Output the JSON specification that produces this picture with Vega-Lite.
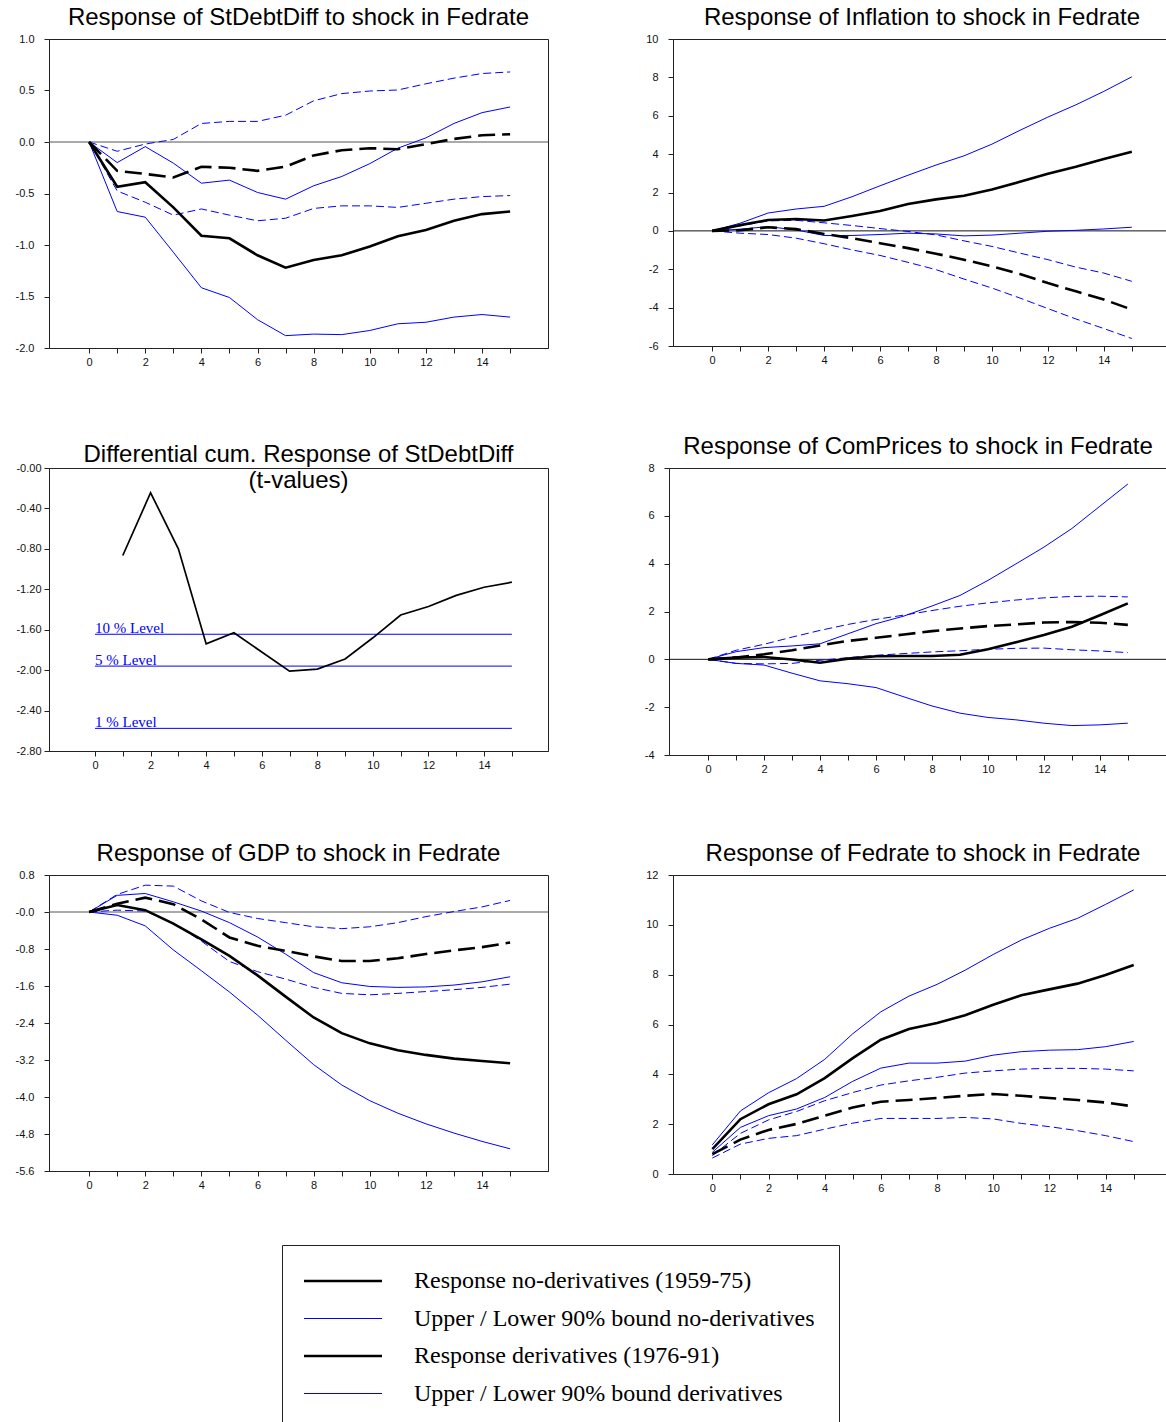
{
  "$schema": "https://vega.github.io/schema/vega-lite/v6.json",
  "background": "white",
  "padding": {"left": 14, "top": 5, "right": 0, "bottom": 0},
  "datasets": {
    "d1": [
      {"x":0,"r0":0,"u0":0,"l0":0,"r1":0,"u1":0,"l1":0},
      {"x":1,"r0":-0.435,"u0":-0.2,"l0":-0.675,"r1":-0.28,"u1":-0.09,"l1":-0.475},
      {"x":2,"r0":-0.39,"u0":-0.045,"l0":-0.73,"r1":-0.31,"u1":-0.02,"l1":-0.585},
      {"x":3,"r0":-0.635,"u0":-0.205,"l0":-1.07,"r1":-0.345,"u1":0.025,"l1":-0.71},
      {"x":4,"r0":-0.91,"u0":-0.4,"l0":-1.415,"r1":-0.24,"u1":0.18,"l1":-0.65},
      {"x":5,"r0":-0.935,"u0":-0.37,"l0":-1.51,"r1":-0.25,"u1":0.2,"l1":-0.71},
      {"x":6,"r0":-1.1,"u0":-0.49,"l0":-1.725,"r1":-0.28,"u1":0.2,"l1":-0.765},
      {"x":7,"r0":-1.22,"u0":-0.555,"l0":-1.88,"r1":-0.24,"u1":0.26,"l1":-0.74},
      {"x":8,"r0":-1.145,"u0":-0.425,"l0":-1.865,"r1":-0.13,"u1":0.4,"l1":-0.645},
      {"x":9,"r0":-1.1,"u0":-0.335,"l0":-1.87,"r1":-0.08,"u1":0.47,"l1":-0.62},
      {"x":10,"r0":-1.015,"u0":-0.21,"l0":-1.83,"r1":-0.06,"u1":0.495,"l1":-0.62},
      {"x":11,"r0":-0.915,"u0":-0.06,"l0":-1.765,"r1":-0.07,"u1":0.505,"l1":-0.635},
      {"x":12,"r0":-0.855,"u0":0.04,"l0":-1.75,"r1":-0.02,"u1":0.565,"l1":-0.595},
      {"x":13,"r0":-0.765,"u0":0.18,"l0":-1.7,"r1":0.03,"u1":0.62,"l1":-0.555},
      {"x":14,"r0":-0.7,"u0":0.285,"l0":-1.675,"r1":0.065,"u1":0.665,"l1":-0.53},
      {"x":15,"r0":-0.675,"u0":0.34,"l0":-1.7,"r1":0.075,"u1":0.68,"l1":-0.52}
    ],
    "d2": [
      {"x":0,"r0":0,"u0":0,"l0":0,"r1":0,"u1":0,"l1":0},
      {"x":1,"r0":0.3,"u0":0.4,"l0":0.09,"r1":0.03,"u1":0.26,"l1":-0.12},
      {"x":2,"r0":0.57,"u0":0.93,"l0":0.22,"r1":0.19,"u1":0.52,"l1":-0.19},
      {"x":3,"r0":0.62,"u0":1.14,"l0":0.05,"r1":0.09,"u1":0.55,"l1":-0.38},
      {"x":4,"r0":0.54,"u0":1.28,"l0":-0.24,"r1":-0.16,"u1":0.42,"l1":-0.67},
      {"x":5,"r0":0.78,"u0":1.78,"l0":-0.24,"r1":-0.38,"u1":0.28,"l1":-0.99},
      {"x":6,"r0":1.04,"u0":2.35,"l0":-0.19,"r1":-0.64,"u1":0.12,"l1":-1.28},
      {"x":7,"r0":1.4,"u0":2.9,"l0":-0.12,"r1":-0.9,"u1":-0.03,"l1":-1.64},
      {"x":8,"r0":1.64,"u0":3.43,"l0":-0.16,"r1":-1.19,"u1":-0.21,"l1":-2.02},
      {"x":9,"r0":1.83,"u0":3.91,"l0":-0.26,"r1":-1.5,"u1":-0.52,"l1":-2.51},
      {"x":10,"r0":2.16,"u0":4.52,"l0":-0.22,"r1":-1.85,"u1":-0.81,"l1":-2.98},
      {"x":11,"r0":2.56,"u0":5.24,"l0":-0.12,"r1":-2.25,"u1":-1.16,"l1":-3.5},
      {"x":12,"r0":2.98,"u0":5.93,"l0":-0.02,"r1":-2.72,"u1":-1.5,"l1":-4.05},
      {"x":13,"r0":3.34,"u0":6.57,"l0":0.03,"r1":-3.15,"u1":-1.89,"l1":-4.59},
      {"x":14,"r0":3.74,"u0":7.27,"l0":0.1,"r1":-3.58,"u1":-2.2,"l1":-5.09},
      {"x":15,"r0":4.12,"u0":8.03,"l0":0.19,"r1":-4.1,"u1":-2.63,"l1":-5.61}
    ],
    "t": [
      {"x":1,"v":-0.866},{"x":2,"v":-0.245},{"x":3,"v":-0.8},{"x":4,"v":-1.74},{"x":5,"v":-1.63},
      {"x":6,"v":-1.82},{"x":7,"v":-2.01},{"x":8,"v":-1.99},{"x":9,"v":-1.89},{"x":10,"v":-1.68},
      {"x":11,"v":-1.455},{"x":12,"v":-1.37},{"x":13,"v":-1.26},{"x":14,"v":-1.18},{"x":15,"v":-1.13}
    ],
    "lv": [
      {"label":"10 % Level","v":-1.645},
      {"label":"5 % Level","v":-1.96},
      {"label":"1 % Level","v":-2.576}
    ],
    "d4": [
      {"x":0,"r0":0,"u0":0,"l0":0,"r1":0,"u1":0,"l1":0},
      {"x":1,"r0":0.07,"u0":0.32,"l0":-0.17,"r1":0.08,"u1":0.38,"l1":-0.17},
      {"x":2,"r0":0.1,"u0":0.49,"l0":-0.24,"r1":0.21,"u1":0.63,"l1":-0.19},
      {"x":3,"r0":-0.01,"u0":0.56,"l0":-0.58,"r1":0.38,"u1":0.93,"l1":-0.17},
      {"x":4,"r0":-0.14,"u0":0.65,"l0":-0.9,"r1":0.58,"u1":1.21,"l1":-0.04},
      {"x":5,"r0":0.03,"u0":1.07,"l0":-1.02,"r1":0.77,"u1":1.46,"l1":0.07},
      {"x":6,"r0":0.13,"u0":1.49,"l0":-1.18,"r1":0.9,"u1":1.67,"l1":0.17},
      {"x":7,"r0":0.14,"u0":1.81,"l0":-1.57,"r1":1.04,"u1":1.85,"l1":0.24},
      {"x":8,"r0":0.14,"u0":2.23,"l0":-1.95,"r1":1.18,"u1":2.04,"l1":0.31},
      {"x":9,"r0":0.19,"u0":2.67,"l0":-2.25,"r1":1.29,"u1":2.22,"l1":0.36},
      {"x":10,"r0":0.42,"u0":3.3,"l0":-2.43,"r1":1.39,"u1":2.36,"l1":0.42},
      {"x":11,"r0":0.71,"u0":3.99,"l0":-2.53,"r1":1.46,"u1":2.48,"l1":0.46},
      {"x":12,"r0":1.02,"u0":4.69,"l0":-2.67,"r1":1.54,"u1":2.57,"l1":0.47},
      {"x":13,"r0":1.36,"u0":5.47,"l0":-2.77,"r1":1.56,"u1":2.63,"l1":0.4},
      {"x":14,"r0":1.84,"u0":6.4,"l0":-2.74,"r1":1.53,"u1":2.64,"l1":0.35},
      {"x":15,"r0":2.34,"u0":7.33,"l0":-2.67,"r1":1.44,"u1":2.61,"l1":0.28}
    ],
    "d5": [
      {"x":0,"r0":0,"u0":0,"l0":0,"r1":0,"u1":0,"l1":0},
      {"x":1,"r0":0.15,"u0":0.36,"l0":-0.07,"r1":0.18,"u1":0.38,"l1":0.04},
      {"x":2,"r0":0.04,"u0":0.4,"l0":-0.3,"r1":0.31,"u1":0.58,"l1":0.02},
      {"x":3,"r0":-0.25,"u0":0.22,"l0":-0.82,"r1":0.17,"u1":0.56,"l1":-0.24},
      {"x":4,"r0":-0.59,"u0":0.02,"l0":-1.27,"r1":-0.16,"u1":0.24,"l1":-0.63},
      {"x":5,"r0":-0.95,"u0":-0.23,"l0":-1.73,"r1":-0.55,"u1":-0.01,"l1":-1.07},
      {"x":6,"r0":-1.37,"u0":-0.54,"l0":-2.23,"r1":-0.73,"u1":-0.14,"l1":-1.29},
      {"x":7,"r0":-1.83,"u0":-0.91,"l0":-2.77,"r1":-0.84,"u1":-0.23,"l1":-1.45},
      {"x":8,"r0":-2.28,"u0":-1.31,"l0":-3.3,"r1":-0.96,"u1":-0.32,"l1":-1.63},
      {"x":9,"r0":-2.62,"u0":-1.53,"l0":-3.74,"r1":-1.06,"u1":-0.36,"l1":-1.76},
      {"x":10,"r0":-2.84,"u0":-1.61,"l0":-4.08,"r1":-1.06,"u1":-0.32,"l1":-1.79},
      {"x":11,"r0":-2.99,"u0":-1.63,"l0":-4.35,"r1":-1.0,"u1":-0.23,"l1":-1.76},
      {"x":12,"r0":-3.09,"u0":-1.62,"l0":-4.58,"r1":-0.91,"u1":-0.1,"l1":-1.72},
      {"x":13,"r0":-3.17,"u0":-1.58,"l0":-4.78,"r1":-0.83,"u1":0.01,"l1":-1.68},
      {"x":14,"r0":-3.22,"u0":-1.51,"l0":-4.96,"r1":-0.76,"u1":0.11,"l1":-1.63},
      {"x":15,"r0":-3.27,"u0":-1.4,"l0":-5.12,"r1":-0.66,"u1":0.25,"l1":-1.56}
    ],
    "d6": [
      {"x":0,"r0":1.0,"u0":1.17,"l0":0.87,"r1":0.8,"u1":0.74,"l1":0.64},
      {"x":1,"r0":2.2,"u0":2.53,"l0":1.87,"r1":1.38,"u1":1.63,"l1":1.2},
      {"x":2,"r0":2.8,"u0":3.26,"l0":2.34,"r1":1.77,"u1":2.17,"l1":1.43},
      {"x":3,"r0":3.2,"u0":3.83,"l0":2.61,"r1":2.01,"u1":2.51,"l1":1.54},
      {"x":4,"r0":3.85,"u0":4.6,"l0":3.07,"r1":2.34,"u1":2.94,"l1":1.8},
      {"x":5,"r0":4.65,"u0":5.63,"l0":3.72,"r1":2.67,"u1":3.27,"l1":2.04},
      {"x":6,"r0":5.39,"u0":6.51,"l0":4.25,"r1":2.9,"u1":3.57,"l1":2.23},
      {"x":7,"r0":5.82,"u0":7.14,"l0":4.45,"r1":2.97,"u1":3.74,"l1":2.23},
      {"x":8,"r0":6.06,"u0":7.61,"l0":4.45,"r1":3.05,"u1":3.88,"l1":2.23},
      {"x":9,"r0":6.37,"u0":8.18,"l0":4.53,"r1":3.14,"u1":4.05,"l1":2.27},
      {"x":10,"r0":6.79,"u0":8.81,"l0":4.77,"r1":3.21,"u1":4.14,"l1":2.21},
      {"x":11,"r0":7.17,"u0":9.39,"l0":4.91,"r1":3.14,"u1":4.21,"l1":2.03},
      {"x":12,"r0":7.41,"u0":9.86,"l0":4.97,"r1":3.05,"u1":4.24,"l1":1.9},
      {"x":13,"r0":7.64,"u0":10.26,"l0":4.99,"r1":2.97,"u1":4.24,"l1":1.74},
      {"x":14,"r0":7.99,"u0":10.82,"l0":5.11,"r1":2.87,"u1":4.21,"l1":1.54},
      {"x":15,"r0":8.39,"u0":11.4,"l0":5.32,"r1":2.71,"u1":4.14,"l1":1.3}
    ]
  },
  "vconcat": [
    {
      "hconcat": [
        {
          "width": 499, "height": 309,
          "title": {"text": "Response of StDebtDiff to shock in Fedrate"},
          "layer": [
            {"data": {"values": [{}]}, "mark": {"type": "rule", "color": "#555", "strokeWidth": 1}, "encoding": {"y": {"datum": 0, "type": "quantitative"}}},
            {
              "data": {"name": "d1"},
              "transform": [{"fold": ["u0","l0","u1","l1","r1","r0"], "as": ["k","v"]}],
              "encoding": {
                "x": {"field": "x", "type": "quantitative", "scale": {"domain": [-1.43, 16.35], "nice": false, "zero": false}, "axis": {"title": null, "tickCount": 40, "values": [0,1,2,3,4,5,6,7,8,9,10,11,12,13,14,15], "labelExpr": "datum.value % 2 == 0 ? format(datum.value, 'd') : ''", "labelFlush": false, "labelOverlap": false, "labelPadding": 3}},
                "y": {"field": "v", "type": "quantitative", "scale": {"domain": [-2, 1], "nice": false, "zero": false}, "axis": {"title": null, "tickCount": 40, "values": [-2,-1.5,-1,-0.5,0,0.5,1], "labelOverlap": false, "labelExpr": "replace(format(datum.value, '.1f'), '−', '-')"}},
                "color": {"field": "k", "type": "nominal", "scale": {"domain": ["r0","u0","r1","u1","l0","l1"], "range": ["#000000","#0000ff","#000000","#0000ff","#0000ff","#0000ff"]},
                  "legend": {"orient": "none", "legendX": 233, "legendY": 1206, "title": null, "values": ["r0","u0","r1","u1"],
                    "labelExpr": "datum.value == 'r0' ? 'Response no-derivatives (1959-75)' : datum.value == 'u0' ? 'Upper / Lower 90% bound no-derivatives' : datum.value == 'r1' ? 'Response derivatives (1976-91)' : 'Upper / Lower 90% bound derivatives'",
                    "encode": {"symbols": {"update": {"strokeWidth": {"signal": "datum.value == 'r0' || datum.value == 'r1' ? 2.6 : 1.2"}, "strokeDash": {"value": [1, 0]}}}}}}
              },
              "layer": [
                {"transform": [{"filter": {"field": "k", "oneOf": ["u0","l0"]}}], "mark": {"type": "line", "strokeWidth": 1}},
                {"transform": [{"filter": {"field": "k", "oneOf": ["u1","l1"]}}], "mark": {"type": "line", "strokeWidth": 1, "strokeDash": [8, 4]}},
                {"transform": [{"filter": {"field": "k", "equal": "r1"}}], "mark": {"type": "line", "strokeWidth": 2.6, "strokeDash": [17, 7]}},
                {"transform": [{"filter": {"field": "k", "equal": "r0"}}], "mark": {"type": "line", "strokeWidth": 2.6}}
              ]
            }
          ]
        },
        {
          "width": 498, "height": 307,
          "title": {"text": "Response of Inflation to shock in Fedrate"},
          "layer": [
            {"data": {"values": [{}]}, "mark": {"type": "rule", "color": "#111", "strokeWidth": 1}, "encoding": {"y": {"datum": 0, "type": "quantitative"}}},
            {
              "data": {"name": "d2"},
              "transform": [{"fold": ["u0","l0","u1","l1","r1","r0"], "as": ["k","v"]}],
              "encoding": {
                "x": {"field": "x", "type": "quantitative", "scale": {"domain": [-1.4, 16.4], "nice": false, "zero": false}, "axis": {"title": null, "tickCount": 40, "values": [0,1,2,3,4,5,6,7,8,9,10,11,12,13,14,15], "labelExpr": "datum.value % 2 == 0 ? format(datum.value, 'd') : ''", "labelFlush": false, "labelOverlap": false, "labelPadding": 3}},
                "y": {"field": "v", "type": "quantitative", "scale": {"domain": [-6, 10], "nice": false, "zero": false}, "axis": {"title": null, "tickCount": 40, "values": [-6,-4,-2,0,2,4,6,8,10], "labelOverlap": false, "labelExpr": "replace(format(datum.value, 'd'), '−', '-')"}},
                "color": {"field": "k", "type": "nominal", "scale": {"domain": ["r0","u0","r1","u1","l0","l1"], "range": ["#000000","#0000ff","#000000","#0000ff","#0000ff","#0000ff"]},
                  "legend": {"orient": "none", "legendX": 233, "legendY": 1206, "title": null, "values": ["r0","u0","r1","u1"],
                    "labelExpr": "datum.value == 'r0' ? 'Response no-derivatives (1959-75)' : datum.value == 'u0' ? 'Upper / Lower 90% bound no-derivatives' : datum.value == 'r1' ? 'Response derivatives (1976-91)' : 'Upper / Lower 90% bound derivatives'",
                    "encode": {"symbols": {"update": {"strokeWidth": {"signal": "datum.value == 'r0' || datum.value == 'r1' ? 2.6 : 1.2"}, "strokeDash": {"value": [1, 0]}}}}}}
              },
              "layer": [
                {"transform": [{"filter": {"field": "k", "oneOf": ["u0","l0"]}}], "mark": {"type": "line", "strokeWidth": 1}},
                {"transform": [{"filter": {"field": "k", "oneOf": ["u1","l1"]}}], "mark": {"type": "line", "strokeWidth": 1, "strokeDash": [8, 4]}},
                {"transform": [{"filter": {"field": "k", "equal": "r1"}}], "mark": {"type": "line", "strokeWidth": 2.6, "strokeDash": [17, 7]}},
                {"transform": [{"filter": {"field": "k", "equal": "r0"}}], "mark": {"type": "line", "strokeWidth": 2.6}}
              ]
            }
          ]
        }
      ],
      "spacing": 96
    },
    {
      "hconcat": [
        {
          "width": 499, "height": 283,
          "title": {"text": ["Differential cum. Response of StDebtDiff", "(t-values)"], "offset": -31, "lineHeight": 26},
          "layer": [
            {
              "data": {"name": "lv"},
              "mark": {"type": "rule", "color": "#0000ff", "strokeWidth": 1},
              "encoding": {"x": {"datum": 0, "type": "quantitative"}, "x2": {"datum": 15}, "y": {"field": "v", "type": "quantitative", "title": null}}
            },
            {
              "data": {"name": "lv"},
              "mark": {"type": "text", "color": "#0000ff", "font": "Liberation Serif", "fontSize": 15, "align": "left", "baseline": "bottom", "dy": 2},
              "encoding": {"x": {"datum": 0, "type": "quantitative"}, "y": {"field": "v", "type": "quantitative", "title": null}, "text": {"field": "label"}}
            },
            {
              "data": {"name": "t"},
              "mark": {"type": "line", "color": "#000000", "strokeWidth": 1.7},
              "encoding": {
                "x": {"field": "x", "type": "quantitative", "scale": {"domain": [-1.655, 16.3], "nice": false, "zero": false}, "axis": {"title": null, "tickCount": 40, "values": [0,1,2,3,4,5,6,7,8,9,10,11,12,13,14,15], "labelExpr": "datum.value % 2 == 0 ? format(datum.value, 'd') : ''", "labelFlush": false, "labelOverlap": false, "labelPadding": 3}},
                "y": {"field": "v", "type": "quantitative", "scale": {"domain": [-2.8, 0], "nice": false, "zero": false}, "axis": {"title": null, "tickCount": 40, "values": [-2.8,-2.4,-2,-1.6,-1.2,-0.8,-0.4,0], "labelOverlap": false, "labelExpr": "datum.value == 0 ? '-0.00' : replace(format(datum.value, '.2f'), '−', '-')", "labelPadding": 3}}
              }
            }
          ]
        },
        {
          "width": 498, "height": 287,
          "title": {"text": "Response of ComPrices to shock in Fedrate"},
          "layer": [
            {"data": {"values": [{}]}, "mark": {"type": "rule", "color": "#111", "strokeWidth": 1}, "encoding": {"y": {"datum": 0, "type": "quantitative"}}},
            {
              "data": {"name": "d4"},
              "transform": [{"fold": ["u0","l0","u1","l1","r1","r0"], "as": ["k","v"]}],
              "encoding": {
                "x": {"field": "x", "type": "quantitative", "scale": {"domain": [-1.4, 16.4], "nice": false, "zero": false}, "axis": {"title": null, "tickCount": 40, "values": [0,1,2,3,4,5,6,7,8,9,10,11,12,13,14,15], "labelExpr": "datum.value % 2 == 0 ? format(datum.value, 'd') : ''", "labelFlush": false, "labelOverlap": false, "labelPadding": 3}},
                "y": {"field": "v", "type": "quantitative", "scale": {"domain": [-4, 8], "nice": false, "zero": false}, "axis": {"title": null, "tickCount": 40, "values": [-4,-2,0,2,4,6,8], "labelOverlap": false, "labelExpr": "replace(format(datum.value, 'd'), '−', '-')"}},
                "color": {"field": "k", "type": "nominal", "scale": {"domain": ["r0","u0","r1","u1","l0","l1"], "range": ["#000000","#0000ff","#000000","#0000ff","#0000ff","#0000ff"]},
                  "legend": {"orient": "none", "legendX": 233, "legendY": 1206, "title": null, "values": ["r0","u0","r1","u1"],
                    "labelExpr": "datum.value == 'r0' ? 'Response no-derivatives (1959-75)' : datum.value == 'u0' ? 'Upper / Lower 90% bound no-derivatives' : datum.value == 'r1' ? 'Response derivatives (1976-91)' : 'Upper / Lower 90% bound derivatives'",
                    "encode": {"symbols": {"update": {"strokeWidth": {"signal": "datum.value == 'r0' || datum.value == 'r1' ? 2.6 : 1.2"}, "strokeDash": {"value": [1, 0]}}}}}}
              },
              "layer": [
                {"transform": [{"filter": {"field": "k", "oneOf": ["u0","l0"]}}], "mark": {"type": "line", "strokeWidth": 1}},
                {"transform": [{"filter": {"field": "k", "oneOf": ["u1","l1"]}}], "mark": {"type": "line", "strokeWidth": 1, "strokeDash": [8, 4]}},
                {"transform": [{"filter": {"field": "k", "equal": "r1"}}], "mark": {"type": "line", "strokeWidth": 2.6, "strokeDash": [17, 7]}},
                {"transform": [{"filter": {"field": "k", "equal": "r0"}}], "mark": {"type": "line", "strokeWidth": 2.6}}
              ]
            }
          ]
        }
      ],
      "spacing": 94
    },
    {
      "hconcat": [
        {
          "width": 499, "height": 296,
          "title": {"text": "Response of GDP to shock in Fedrate"},
          "layer": [
            {"data": {"values": [{}]}, "mark": {"type": "rule", "color": "#555", "strokeWidth": 1}, "encoding": {"y": {"datum": 0, "type": "quantitative"}}},
            {
              "data": {"name": "d5"},
              "transform": [{"fold": ["u0","l0","u1","l1","r1","r0"], "as": ["k","v"]}],
              "encoding": {
                "x": {"field": "x", "type": "quantitative", "scale": {"domain": [-1.43, 16.35], "nice": false, "zero": false}, "axis": {"title": null, "tickCount": 40, "values": [0,1,2,3,4,5,6,7,8,9,10,11,12,13,14,15], "labelExpr": "datum.value % 2 == 0 ? format(datum.value, 'd') : ''", "labelFlush": false, "labelOverlap": false, "labelPadding": 3}},
                "y": {"field": "v", "type": "quantitative", "scale": {"domain": [-5.6, 0.8], "nice": false, "zero": false}, "axis": {"title": null, "tickCount": 40, "values": [-5.6,-4.8,-4,-3.2,-2.4,-1.6,-0.8,0,0.8], "labelOverlap": false, "labelExpr": "datum.value == 0 ? '-0.0' : replace(format(datum.value, '.1f'), '−', '-')"}},
                "color": {"field": "k", "type": "nominal", "scale": {"domain": ["r0","u0","r1","u1","l0","l1"], "range": ["#000000","#0000ff","#000000","#0000ff","#0000ff","#0000ff"]},
                  "legend": {"orient": "none", "legendX": 233, "legendY": 1206, "title": null, "values": ["r0","u0","r1","u1"],
                    "labelExpr": "datum.value == 'r0' ? 'Response no-derivatives (1959-75)' : datum.value == 'u0' ? 'Upper / Lower 90% bound no-derivatives' : datum.value == 'r1' ? 'Response derivatives (1976-91)' : 'Upper / Lower 90% bound derivatives'",
                    "encode": {"symbols": {"update": {"strokeWidth": {"signal": "datum.value == 'r0' || datum.value == 'r1' ? 2.6 : 1.2"}, "strokeDash": {"value": [1, 0]}}}}}}
              },
              "layer": [
                {"transform": [{"filter": {"field": "k", "oneOf": ["u0","l0"]}}], "mark": {"type": "line", "strokeWidth": 1}},
                {"transform": [{"filter": {"field": "k", "oneOf": ["u1","l1"]}}], "mark": {"type": "line", "strokeWidth": 1, "strokeDash": [8, 4]}},
                {"transform": [{"filter": {"field": "k", "equal": "r1"}}], "mark": {"type": "line", "strokeWidth": 2.6, "strokeDash": [17, 7]}},
                {"transform": [{"filter": {"field": "k", "equal": "r0"}}], "mark": {"type": "line", "strokeWidth": 2.6}}
              ]
            }
          ]
        },
        {
          "width": 500, "height": 299,
          "title": {"text": "Response of Fedrate to shock in Fedrate"},
          "data": {"name": "d6"},
          "transform": [{"fold": ["u0","l0","u1","l1","r1","r0"], "as": ["k","v"]}],
          "encoding": {
            "x": {"field": "x", "type": "quantitative", "scale": {"domain": [-1.4, 16.4], "nice": false, "zero": false}, "axis": {"title": null, "tickCount": 40, "values": [0,1,2,3,4,5,6,7,8,9,10,11,12,13,14,15], "labelExpr": "datum.value % 2 == 0 ? format(datum.value, 'd') : ''", "labelFlush": false, "labelOverlap": false, "labelPadding": 3}},
            "y": {"field": "v", "type": "quantitative", "scale": {"domain": [0, 12], "nice": false, "zero": false}, "axis": {"title": null, "tickCount": 40, "values": [0,2,4,6,8,10,12], "labelOverlap": false, "labelExpr": "format(datum.value, 'd')"}},
            "color": {"field": "k", "type": "nominal", "scale": {"domain": ["r0","u0","r1","u1","l0","l1"], "range": ["#000000","#0000ff","#000000","#0000ff","#0000ff","#0000ff"]},
              "legend": {"orient": "none", "legendX": 233, "legendY": 1206, "title": null, "values": ["r0","u0","r1","u1"],
                "labelExpr": "datum.value == 'r0' ? 'Response no-derivatives (1959-75)' : datum.value == 'u0' ? 'Upper / Lower 90% bound no-derivatives' : datum.value == 'r1' ? 'Response derivatives (1976-91)' : 'Upper / Lower 90% bound derivatives'",
                "encode": {"symbols": {"update": {"strokeWidth": {"signal": "datum.value == 'r0' || datum.value == 'r1' ? 2.6 : 1.2"}, "strokeDash": {"value": [1, 0]}}}}}}
          },
          "layer": [
            {"transform": [{"filter": {"field": "k", "oneOf": ["u0","l0"]}}], "mark": {"type": "line", "strokeWidth": 1}},
            {"transform": [{"filter": {"field": "k", "oneOf": ["u1","l1"]}}], "mark": {"type": "line", "strokeWidth": 1, "strokeDash": [8, 4]}},
            {"transform": [{"filter": {"field": "k", "equal": "r1"}}], "mark": {"type": "line", "strokeWidth": 2.6, "strokeDash": [17, 7]}},
            {"transform": [{"filter": {"field": "k", "equal": "r0"}}], "mark": {"type": "line", "strokeWidth": 2.6}}
          ]
        }
      ],
      "spacing": 96
    }
  ],
  "spacing": 66,
  "config": {
    "view": {"stroke": "#222", "strokeWidth": 1},
    "font": "Liberation Sans",
    "axis": {"grid": false, "domainColor": "#222", "tickColor": "#222", "labelColor": "#111", "labelFont": "Liberation Sans", "labelFontSize": 11, "tickSize": 5, "labelPadding": 10, "labelOverlap": false},
    "title": {"font": "Liberation Sans", "fontSize": 24, "fontWeight": "normal", "color": "#000", "offset": 3, "anchor": "middle", "frame": "group"},
    "legend": {"symbolType": "M-2.08,0H2.08", "symbolSize": 1406, "symbolOffset": 25, "rowPadding": 13.5, "labelOffset": 59, "labelFont": "Liberation Serif", "labelFontSize": 24, "labelColor": "#000", "labelLimit": 800, "padding": 24, "strokeColor": "#222", "fillColor": "#ffffff"}
  }
}
